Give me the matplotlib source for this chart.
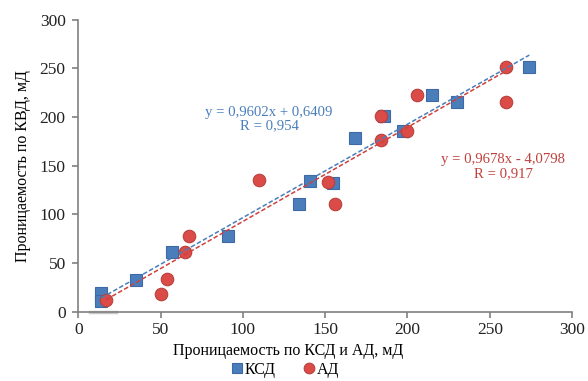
import numpy as np
import matplotlib.pyplot as plt

plt.rcParams['font.family'] = ['Liberation Serif', 'DejaVu Serif']

# КСД (blue squares)
ksd_x = [14, 14, 35, 57, 91, 134, 141, 155, 168, 186, 197, 215, 230, 274]
ksd_y = [19, 11, 33, 61, 78, 111, 134, 132, 178, 201, 186, 223, 216, 252]
# АД (red circles)
ad_x = [17, 50, 54, 65, 67, 110, 152, 156, 184, 184, 200, 206, 260, 260]
ad_y = [12, 18, 34, 61, 78, 135, 133, 111, 201, 176, 186, 223, 252, 216]

# trendline coefficients shown on the chart
ksd_k, ksd_b = 0.9602, 0.6409
ad_k, ad_b = 0.9678, -4.0798

# faint grey stroke under the axis near the origin
grey_x = [7, 23]
grey_y = [0, 0]

blue = '#4A7EBB'
red = '#DB4B47'

fig = plt.figure(figsize=(5.88, 3.81), dpi=100)
ax = fig.add_axes([0.133, 0.182, 0.84, 0.766])

ax.plot(grey_x, grey_y, color='#C8C8C8', lw=2.5, clip_on=False, zorder=1)
ax.plot(ksd_x, ksd_y, 's', ms=9, color=blue, mec='#3B6AA6', mew=0.8, label='КСД', zorder=3)
ax.plot(ad_x, ad_y, 'o', ms=9, color=red, mec='#B8403C', mew=0.8, label='АД', zorder=4)

xs = np.array([min(ksd_x), max(ksd_x)])
ax.plot(xs, ksd_k * xs + ksd_b, '--', color=blue, lw=1.1, dashes=(3, 1.5), zorder=5)
xa = np.array([min(ad_x), max(ad_x)])
ax.plot(xa, ad_k * xa + ad_b, '--', color='#D0403C', lw=1.1, dashes=(3, 1.5), zorder=5)

ax.text(116, 198, 'y = 0,9602x + 0,6409\nR = 0,954', color=blue, fontsize=10.6,
        ha='center', va='center', linespacing=1.1)
ax.text(258, 149, 'y = 0,9678x - 4,0798\nR = 0,917', color='#C0403C', fontsize=10.6,
        ha='center', va='center', linespacing=1.1)

ax.set_xlim(0, 300)
ax.set_ylim(0, 300)
ax.set_xticks(np.arange(0, 301, 50))
ax.set_yticks(np.arange(0, 301, 50))
for s in ['top', 'right']:
    ax.spines[s].set_visible(False)
for s in ['left', 'bottom']:
    ax.spines[s].set_color('#808080')
    ax.spines[s].set_linewidth(1.2)
ax.tick_params(colors='#808080', labelcolor='#222222', labelsize=12.5, length=4, width=1.2)
ax.tick_params(axis='y', pad=5)
ax.set_xlabel('Проницаемость по КСД и АД, мД', fontsize=11.5)
ax.xaxis.set_label_coords(0.425, -0.108)
ax.set_ylabel('Проницаемость по КВД, мД', fontsize=11.5, labelpad=6)

fig.legend(loc='lower center', ncol=2, frameon=False, fontsize=11.5,
           bbox_to_anchor=(0.483, -0.03), handletextpad=0.0, columnspacing=1.6,
           handlelength=1.0, markerscale=0.85)

fig.savefig('out.png', dpi=100)
